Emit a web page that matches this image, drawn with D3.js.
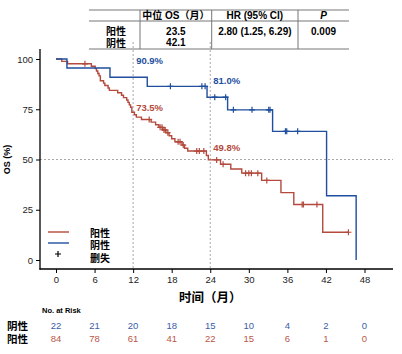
<!DOCTYPE html>
<html lang="zh">
<head>
<meta charset="UTF-8">
<script src="https://cdn.jsdelivr.net/npm/d3@7"></script>
<style>
  body { margin: 0; background: #fff; }
  svg { font-family: "Liberation Sans", Arial, "Noto Sans CJK SC", sans-serif; }
</style>
</head>
<body>
<svg id="km" width="402" height="354"></svg>
<script>
// step curves: time (months) and survival (%) after each step
const redT = [0, 0.9, 1.8, 5.5, 6.1, 6.3, 6.5, 6.7, 6.9, 7.4, 7.6, 8.1, 8.3, 9.6, 10.2, 10.5, 11.0, 11.2, 11.4, 11.6, 11.8, 12.2, 12.5, 13.3, 14.8, 15.5, 16.0, 16.6, 17.1, 17.6, 18.0, 18.5, 19.6, 20.0, 20.5, 23.4, 23.7, 25.6, 27.2, 28.9, 32.0, 35.0, 37.0, 41.5];
const redS = [100, 98.8, 97.6, 96.4, 95.2, 94.0, 92.8, 91.6, 89.2, 88.0, 86.8, 85.6, 84.4, 83.2, 82.0, 80.8, 79.6, 78.4, 77.2, 76.0, 73.5, 72.3, 71.1, 69.9, 68.6, 67.3, 66.0, 64.7, 63.3, 61.8, 60.3, 58.8, 57.2, 55.6, 54.2, 52.0, 49.8, 47.6, 45.3, 43.2, 39.6, 33.5, 27.6, 13.8];
const redEnd = 45.5;
const redCens = [4.5, 14.5, 16.2, 16.5, 16.8, 17.0, 17.4, 19.0, 19.3, 19.8, 21.9, 22.3, 23.0, 25.0, 26.0, 29.5, 30.0, 30.4, 31.4, 32.8, 38.3, 38.5, 40.6, 45.5];

const blueT = [0, 1.7, 8.4, 14.2, 23.5, 26.7, 33.7, 42.1, 46.7];
const blueS = [100, 95.5, 90.9, 86.4, 81.0, 74.7, 64.0, 32.0, 0];
const blueEnd = 46.7;
const blueCens = [17.8, 22.7, 23.2, 24.7, 26.4, 27.6, 30.5, 33.1, 33.3, 35.7, 35.9, 37.6];

const xTicks = [0, 6, 12, 18, 24, 30, 36, 42, 48];
const yTicks = [0, 25, 50, 75, 100];
const riskNeg = [22, 21, 20, 18, 15, 10, 4, 2, 0];
const riskPos = [84, 78, 61, 41, 22, 15, 6, 1, 0];

const marks = [ // landmark labels
  {t: 12, s: 90.9, text: "90.9%", grp: "neg", dy: -13},
  {t: 12, s: 73.5, text: "73.5%", grp: "pos", dy: -1},
  {t: 24, s: 81.0, text: "81.0%", grp: "neg", dy: -13},
  {t: 24, s: 49.8, text: "49.8%", grp: "pos", dy: -9}
];

const tableHead = ["", "中位 OS（月）", "HR (95% CI)", "P"];
const tableRows = [
  ["阳性", "23.5", "2.80 (1.25, 6.29)", "0.009"],
  ["阴性", "42.1", "", ""]
];

const RED = "#b34a3d", BLUE = "#1f4f9e";
const RED_T = "#b9574a", BLUE_T = "#3a5ea8";

let svg = d3.select("#km");

let x = d3.scaleLinear().domain([0, 48]).range([56, 364.5]);
let y = d3.scaleLinear().domain([0, 100]).range([260, 59]);

/* REFERENCE LINES */
let ref = svg.append("g")
  .attr("stroke", "#aaa").attr("stroke-width", 1).attr("stroke-dasharray", "2,2");
[12, 24].forEach(t => {
  ref.append("line").attr("x1", x(t)).attr("x2", x(t)).attr("y1", 42).attr("y2", 269);
});
ref.append("line").attr("x1", 40).attr("x2", 393).attr("y1", y(50)).attr("y2", y(50));

/* AXES */
let axisY = d3.axisLeft(y).tickValues(yTicks).tickSize(4).tickPadding(3);
let gy = svg.append("g").attr("transform", "translate(40,0)").call(axisY);
gy.select(".domain").remove();
gy.selectAll("text").attr("font-size", 9.5).attr("fill", "#222").style("font-family", "inherit");
svg.append("line").attr("x1", 40).attr("x2", 40).attr("y1", 49).attr("y2", 269.5)
  .attr("stroke", "#000").attr("stroke-width", 1.3);

let axisX = d3.axisBottom(x).tickValues(xTicks).tickSize(4).tickPadding(3);
let gx = svg.append("g").attr("transform", "translate(0,269)").call(axisX);
gx.select(".domain").remove();
gx.selectAll("text").attr("font-size", 9.5).attr("fill", "#222").style("font-family", "inherit");
svg.append("line").attr("x1", 39.4).attr("x2", 393).attr("y1", 269).attr("y2", 269)
  .attr("stroke", "#000").attr("stroke-width", 1.3);

svg.append("text").text("OS (%)")
  .attr("transform", "translate(10," + y(50) + ") rotate(-90)")
  .attr("text-anchor", "middle").attr("font-size", 9).attr("font-weight", "bold");
svg.append("text").text("时间（月）")
  .attr("x", x(24)).attr("y", 302)
  .attr("text-anchor", "middle").attr("font-size", 12.5).attr("font-weight", "bold");

/* CURVES */
let line = d3.line().x(d => x(d[0])).y(d => y(d[1])).curve(d3.curveStepAfter);
function stepPts(T, S, end) {
  let pts = T.map((t, i) => [t, S[i]]);
  if (end > T[T.length - 1]) pts.push([end, S[S.length - 1]]);
  return pts;
}
function survAt(T, S, t) {
  let i = d3.bisectRight(T, t) - 1;
  return S[Math.max(i, 0)];
}
function drawGroup(T, S, end, cens, color) {
  svg.append("path").attr("d", line(stepPts(T, S, end)))
    .attr("fill", "none").attr("stroke", color).attr("stroke-width", 1.4);
  svg.append("g").selectAll("path").data(cens).join("path")
    .attr("d", t => {
      let cx = x(t), cy = y(survAt(T, S, t));
      return `M${cx - 3},${cy}H${cx + 3}M${cx},${cy - 3}V${cy + 3}`;
    })
    .attr("stroke", color).attr("stroke-width", 1.2);
}
drawGroup(redT, redS, redEnd, redCens, RED);
drawGroup(blueT, blueS, blueEnd, blueCens, BLUE);

svg.append("g").selectAll("text").data(marks).join("text")
  .text(d => d.text)
  .attr("x", d => x(d.t) + 3).attr("y", d => y(d.s) + d.dy)
  .attr("font-size", 9.5).attr("font-weight", "bold")
  .attr("fill", d => d.grp == "neg" ? BLUE : RED);

/* LEGEND */
let leg = svg.append("g");
[["阳性", RED], ["阴性", BLUE]].forEach((d, i) => {
  let ly = 232 + i * 11;
  leg.append("line").attr("x1", 48).attr("x2", 69).attr("y1", ly).attr("y2", ly)
    .attr("stroke", d[1]).attr("stroke-width", 1.4);
  leg.append("text").text(d[0]).attr("x", 90).attr("y", 236.5 + i * 12.8)
    .attr("font-size", 10).attr("font-weight", "bold");
});
leg.append("path").attr("d", "M55,254H61M58,251V257").attr("stroke", "#000").attr("stroke-width", 1.2);
leg.append("text").text("删失").attr("x", 90).attr("y", 262)
  .attr("font-size", 10).attr("font-weight", "bold");

/* TABLE */
let tab = svg.append("g");
let colX = [89, 140, 211.7, 298, 349];
let rowY = [15.5, 31, 42.6];
tab.append("line").attr("x1", 89).attr("x2", 349).attr("y1", 10).attr("y2", 10).attr("stroke", "#777");
tab.append("line").attr("x1", 89).attr("x2", 349).attr("y1", 21).attr("y2", 21).attr("stroke", "#777");
tab.append("line").attr("x1", 89).attr("x2", 349).attr("y1", 49).attr("y2", 49).attr("stroke", "#777");
colX.slice(1, 4).forEach(cx => {
  tab.append("line").attr("x1", cx).attr("x2", cx).attr("y1", 10).attr("y2", 49).attr("stroke", "#777");
});
[tableHead].concat(tableRows).forEach((row, r) => {
  row.forEach((cell, c) => {
    if (!cell) return;
    tab.append("text").text(cell)
      .attr("x", c == 0 ? 116 : (colX[c] + colX[c + 1]) / 2)
      .attr("y", rowY[r] + (c == 0 ? 4 : 3.6))
      .attr("text-anchor", "middle")
      .attr("font-size", 10)
      .attr("font-weight", "bold")
      .attr("font-style", r == 0 && c == 3 ? "italic" : "normal");
  });
});

/* NUMBER AT RISK */
svg.append("text").text("No. at Risk").attr("x", 42).attr("y", 313)
  .attr("font-size", 7.5).attr("font-weight", "bold");
[["阴性", riskNeg, BLUE_T, 325.7], ["阳性", riskPos, RED_T, 338.6]].forEach(d => {
  svg.append("text").text(d[0]).attr("x", 7).attr("y", d[3] + 4)
    .attr("font-size", 10.5).attr("font-weight", "bold");
  svg.append("g").selectAll("text").data(d[1]).join("text")
    .text(v => v)
    .attr("x", (v, i) => x(xTicks[i])).attr("y", d[3] + 3.5)
    .attr("text-anchor", "middle").attr("font-size", 9.5).attr("fill", d[2]);
});
</script>
</body>
</html>
